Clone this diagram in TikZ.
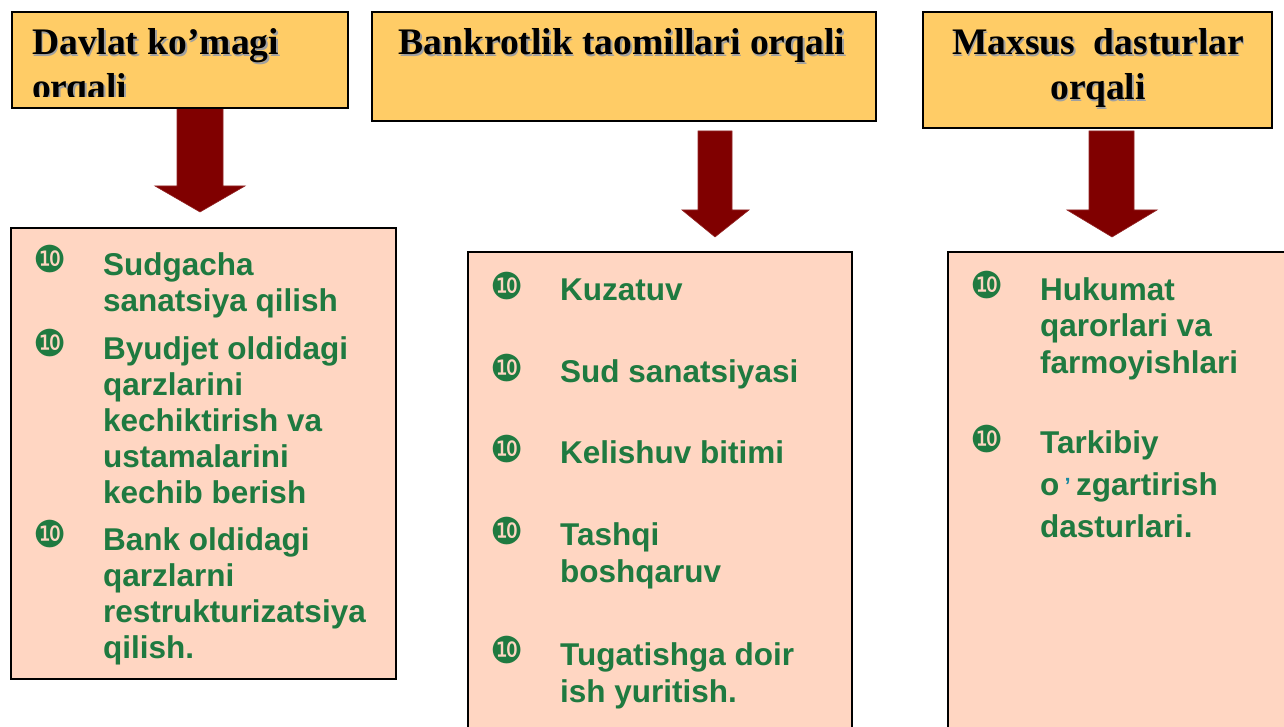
\documentclass[tikz,border=0pt]{standalone}
\usepackage{fontspec}
\setmainfont{Liberation Serif}
\newfontfamily\bodyfont{Liberation Sans}
\newfontfamily\bulfont{DejaVu Sans}
\definecolor{hdrfill}{RGB}{255,204,102}
\definecolor{boxfill}{RGB}{255,214,194}
\definecolor{grn}{RGB}{31,122,64}
\definecolor{arrred}{RGB}{128,0,0}
\definecolor{shadgray}{RGB}{160,160,160}
\definecolor{apos}{RGB}{26,138,160}
\newcommand\topstrut{\rule{0pt}{25pt}}
\tikzset{
  hbox/.style={draw=black, line width=2pt, fill=hdrfill, inner sep=0pt, anchor=north west},
  bbox/.style={draw=black, line width=2pt, fill=boxfill, inner sep=0pt, anchor=north west},
  htext/.style={font=\bfseries\fontsize{37.5}{45}\selectfont, inner sep=0pt},
  hshad/.style={htext, text=shadgray},
  itemtext/.style={font=\bodyfont\bfseries\fontsize{31.5}{36}\selectfont, text=grn, align=left, anchor=north west, inner sep=0pt},
  bullet/.style={font=\bulfont\fontsize{37}{37}\selectfont, text=grn, inner sep=0pt, anchor=center},
  bigarrow/.style={fill=arrred, draw=arrred!85!white, line width=0.6pt}
}
\begin{document}
\begin{tikzpicture}[x=1pt,y=-1pt]
\useasboundingbox (0,0) rectangle (1284,727);
\clip (0,0) rectangle (1284,727);

% arrows
\fill[bigarrow] (177,106) -- (223,106) -- (223,186) -- (245,186) -- (200,212) -- (155,186) -- (177,186) -- cycle;
\fill[bigarrow] (698,131) -- (732,131) -- (732,210) -- (749,210) -- (715,237) -- (682,210) -- (698,210) -- cycle;
\fill[bigarrow] (1089,131) -- (1134,131) -- (1134,210) -- (1157,210) -- (1112,237) -- (1067,210) -- (1089,210) -- cycle;

% header boxes
\node[hbox, minimum width=336, minimum height=96] (h1) at (11,11) {};
\node[hbox, minimum width=504, minimum height=109] (h2) at (371,11) {};
\node[hbox, minimum width=349, minimum height=116] (h3) at (922,11) {};

% header texts
\begin{scope}
\clip (12,12) rectangle (346,97);
\node[hshad, anchor=base west] (h1as) at (33.5,56.5) {Davlat ko’magi};
\node[htext, anchor=base west] (h1a) at (32,55) {Davlat ko’magi};
\node[hshad, anchor=base west] (h1bs) at (33.5,101.5) {orqali};
\node[htext, anchor=base west] (h1b) at (32,100) {orqali};
\end{scope}
\node[hshad, anchor=base] (h2as) at (623.5,56.5) {Bankrotlik taomillari orqali};
\node[htext, anchor=base] (h2a) at (622,55) {Bankrotlik taomillari orqali};
\node[hshad, anchor=base] (h3as) at (1099.5,56.5) {Maxsus\ \ dasturlar};
\node[htext, anchor=base] (h3a) at (1098,55) {Maxsus\ \ dasturlar};
\node[hshad, anchor=base] (h3bs) at (1099.5,101.5) {orqali};
\node[htext, anchor=base] (h3b) at (1098,100) {orqali};

% body boxes
\node[bbox, minimum width=385, minimum height=451] (b1) at (10,227) {};
\node[bbox, minimum width=384, minimum height=500] (b2) at (467,251) {};
\node[bbox, minimum width=420, minimum height=500] (b3) at (947,251) {};

% box 1 items (text node top = first baseline - 25)
\node[bullet] (u11) at (50,259) {❿};
\node[itemtext] (t11) at (103,250) {\topstrut Sudgacha\\sanatsiya qilish};
\node[bullet] (u12) at (50,343) {❿};
\node[itemtext] (t12) at (103,334) {\topstrut Byudjet oldidagi\\qarzlarini\\kechiktirish va\\ustamalarini\\kechib berish};
\node[bullet] (u13) at (50,534) {❿};
\node[itemtext] (t13) at (103,525) {\topstrut Bank oldidagi\\qarzlarni\\restrukturizatsiya\\qilish.};

% box 2 items
\begin{scope}[itemtext/.append style={font=\bodyfont\bfseries\fontsize{31.5}{37.5}\selectfont}]
\node[bullet] (u21) at (507,286) {❿};
\node[itemtext] (t21) at (560,275) {\topstrut Kuzatuv};
\node[bullet] (u22) at (507,368) {❿};
\node[itemtext] (t22) at (560,357) {\topstrut Sud sanatsiyasi};
\node[bullet] (u23) at (507,449) {❿};
\node[itemtext] (t23) at (560,438) {\topstrut Kelishuv bitimi};
\node[bullet] (u24) at (507,531) {❿};
\node[itemtext] (t24) at (560,520) {\topstrut Tashqi\\boshqaruv};
\node[bullet] (u25) at (507,650) {❿};
\node[itemtext] (t25) at (560,640) {\topstrut Tugatishga doir\\ish yuritish.};
\end{scope}

% box 3 items
\node[bullet] (u31) at (987,285) {❿};
\node[itemtext, font=\bodyfont\bfseries\fontsize{31.5}{36.5}\selectfont] (t31) at (1040,275) {\topstrut Hukumat\\qarorlari va\\farmoyishlari};
\node[bullet] (u32) at (987,439) {❿};
\node[itemtext, font=\bodyfont\bfseries\fontsize{31.5}{42}\selectfont] (t32) at (1040,428) {\topstrut Tarkibiy\\o\,{\color{apos}\raisebox{2pt}{\fontsize{22}{22}\selectfont ʼ}}\,zgartirish\\dasturlari.};

\end{tikzpicture}
\end{document}
